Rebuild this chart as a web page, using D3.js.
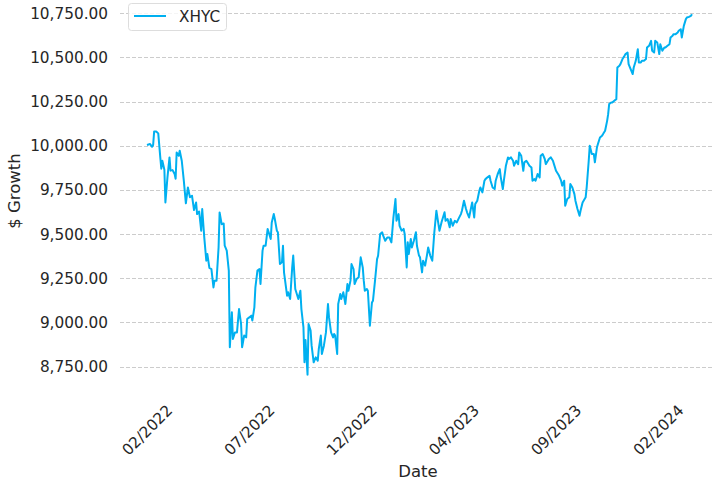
<!DOCTYPE html>
<html>
<head>
<meta charset="utf-8">
<script src="https://cdn.jsdelivr.net/npm/d3@7"></script>
<style>
  body { margin: 0; background: #fff; }
  text { font-family: "DejaVu Sans", sans-serif; fill: #262626; }
</style>
</head>
<body>
<script>
var width = 713;
var height = 482;

// trading day number since start of the series
var day = [0,3,5,6,7,9,11,13,14,15,17,18,20,22,23,25,27,28,29,31,32,34,36,38,40,42,44,46,48,49,
  51,53,54,56,58,59,61,63,65,66,68,70,71,73,75,76,78,80,81,83,84,86,88,90,92,93,95,97,98,100,
  102,103,105,106,108,110,111,113,114,116,118,119,121,122,124,125,127,128,130,132,133,134,137,138,140,142,143,145,146,148,
  150,151,153,154,155,157,158,160,161,163,165,167,168,170,171,173,175,177,178,180,182,183,184,186,187,189,190,192,194,196,
  197,199,200,202,203,205,207,209,211,212,213,215,216,218,220,221,223,225,226,228,230,231,233,235,237,239,241,243,244,246,
  247,249,251,252,254,255,256,258,259,261,263,264,266,267,269,270,272,274,275,277,279,281,283,284,286,288,289,291,292,294,
  296,297,299,301,303,305,307,308,310,312,313,315,317,318,320,321,323,325,326,328,330,331,333,335,336,338,340,341,343,345,
  346,348,349,351,353,354,356,358,359,361,363,364,366,368,369,371,372,374,376,377,379,380,382,384,385,387,389,390,392,393,
  395,397,398,400,402,403,405,406,408,409,411,413,414,416,418,419,421,423,424,426,427,429,430,432,433,435,437,438,440,441,
  443,445,446,448,450,451,452,454,455,457,459,460,462,463,465,467,468,470,471,473,475,476,478,480,481,483,484,486,488,489,
  491,493,494,496,497,499,501,502,504,506,507,509,511,512,514,515,517,519,520,522,523,525,527,528,530,532,533];

var growth = [10004,10010,9994,10004,10081,10081,10070,9934,9870,9915,9864,9679,9821,9934,9859,9862,9840,9813,9962,9943,9972,9915,9802,9674,9764,9708,9717,9636,9679,9613,
  9628,9519,9642,9481,9349,9387,9308,9302,9198,9236,9236,9424,9622,9556,9560,9434,9406,9293,8859,9057,8906,8943,8943,9075,8991,8859,8925,8915,9019,9028,
  9038,9010,9085,9198,9293,9302,9217,9406,9434,9434,9529,9510,9472,9566,9613,9585,9519,9510,9331,9340,9434,9283,9151,9170,9132,9311,9378,9189,9170,9132,
  9179,9075,8972,8774,8900,8704,8990,8953,8868,8774,8802,8783,8849,8925,8821,8868,8943,9104,9028,8943,8915,8934,8925,8821,9104,9160,9132,9170,9104,9217,
  9179,9236,9330,9302,9217,9245,9255,9368,9311,9236,9179,9189,9179,8981,9113,9123,9236,9358,9377,9500,9510,9491,9462,9481,9481,9453,9594,9698,9575,9613,
  9547,9519,9529,9500,9311,9453,9387,9472,9424,9462,9510,9434,9378,9368,9283,9349,9321,9387,9424,9378,9349,9510,9632,9594,9519,9566,9585,9623,9575,9585,
  9538,9585,9547,9575,9566,9590,9613,9632,9689,9642,9623,9594,9651,9679,9594,9670,9689,9745,9764,9736,9802,9811,9821,9830,9802,9764,9755,9802,9840,9868,
  9821,9755,9802,9887,9934,9925,9934,9915,9887,9915,9896,9962,9943,9858,9906,9915,9906,9887,9877,9802,9811,9802,9840,9821,9943,9953,9925,9896,9915,9925,
  9934,9915,9896,9858,9840,9830,9802,9774,9802,9660,9698,9708,9783,9764,9726,9689,9642,9604,9632,9679,9689,9708,9764,9915,10000,9953,9953,9906,9990,10010,
  10047,10057,10066,10085,10141,10179,10236,10245,10245,10255,10264,10443,10453,10462,10491,10509,10519,10528,10462,10434,10406,10443,10481,10547,10472,10472,10481,10481,10491,10556,
  10566,10594,10538,10528,10594,10585,10519,10575,10538,10556,10556,10566,10575,10613,10623,10632,10632,10641,10651,10660,10613,10679,10717,10726,10730,10736,10745];

var yTicks = [8750, 9000, 9250, 9500, 9750, 10000, 10250, 10500, 10750];
var xTickDays = [0, 100, 200, 300, 400, 500];
var xTickLabels = ["02/2022", "07/2022", "12/2022", "04/2023", "09/2023", "02/2024"];

var data = day.map(function(d, i) { return { day: d, value: growth[i] }; });

var svg = d3.select("body")
  .append("svg")
  .attr("width", width)
  .attr("height", height);

var x = d3.scaleLinear().domain([0, 533]).range([147, 692]);
var y = d3.scaleLinear().domain([8750, 10750]).range([366.5, 13.3]);

// grid
svg.append("g")
  .selectAll("line")
  .data(yTicks)
  .enter().append("line")
    .attr("x1", 120)
    .attr("x2", width)
    .attr("y1", function(d) { return Math.round(y(d)) + 0.5; })
    .attr("y2", function(d) { return Math.round(y(d)) + 0.5; })
    .attr("stroke", "#cccccc")
    .attr("stroke-width", 1)
    .attr("stroke-dasharray", "4,2");

// y tick labels
var fmt = d3.format(",.2f");
svg.append("g")
  .selectAll("text")
  .data(yTicks)
  .enter().append("text")
    .attr("x", 108)
    .attr("y", function(d) { return y(d); })
    .attr("dy", "0.36em")
    .attr("text-anchor", "end")
    .style("font-size", "15.3px")
    .text(function(d) { return fmt(d); });

// x tick labels, rotated
svg.append("g")
  .selectAll("text")
  .data(xTickDays)
  .enter().append("text")
    .attr("transform", function(d) { return "translate(" + x(d) + ",430) rotate(-45)"; })
    .attr("text-anchor", "middle")
    .attr("dy", "0.36em")
    .style("font-size", "15.3px")
    .text(function(d, i) { return xTickLabels[i]; });

// axis titles
svg.append("text")
  .attr("transform", "translate(14.5,191) rotate(-90)")
  .attr("text-anchor", "middle")
  .attr("dy", "0.36em")
  .style("font-size", "16.5px")
  .text("$ Growth");

svg.append("text")
  .attr("x", 418)
  .attr("y", 477)
  .attr("text-anchor", "middle")
  .style("font-size", "16.5px")
  .text("Date");

// the series
var line = d3.line()
  .x(function(d) { return x(d.day); })
  .y(function(d) { return y(d.value); });

svg.append("path")
  .datum(data)
  .attr("fill", "none")
  .attr("stroke", "#00b0f0")
  .attr("stroke-width", 2)
  .attr("stroke-linejoin", "round")
  .attr("d", line);

// legend
var legend = svg.append("g");
legend.append("rect")
  .attr("x", 128.5)
  .attr("y", 3.5)
  .attr("width", 98)
  .attr("height", 27)
  .attr("rx", 3)
  .attr("fill", "#fff")
  .attr("fill-opacity", 0.8)
  .attr("stroke", "#dddddd");
legend.append("line")
  .attr("x1", 134).attr("x2", 166)
  .attr("y1", 16).attr("y2", 16)
  .attr("stroke", "#00b0f0")
  .attr("stroke-width", 2);
legend.append("text")
  .attr("x", 179)
  .attr("y", 16)
  .attr("dy", "0.36em")
  .style("font-size", "15.3px")
  .text("XHYC");
</script>
</body>
</html>
